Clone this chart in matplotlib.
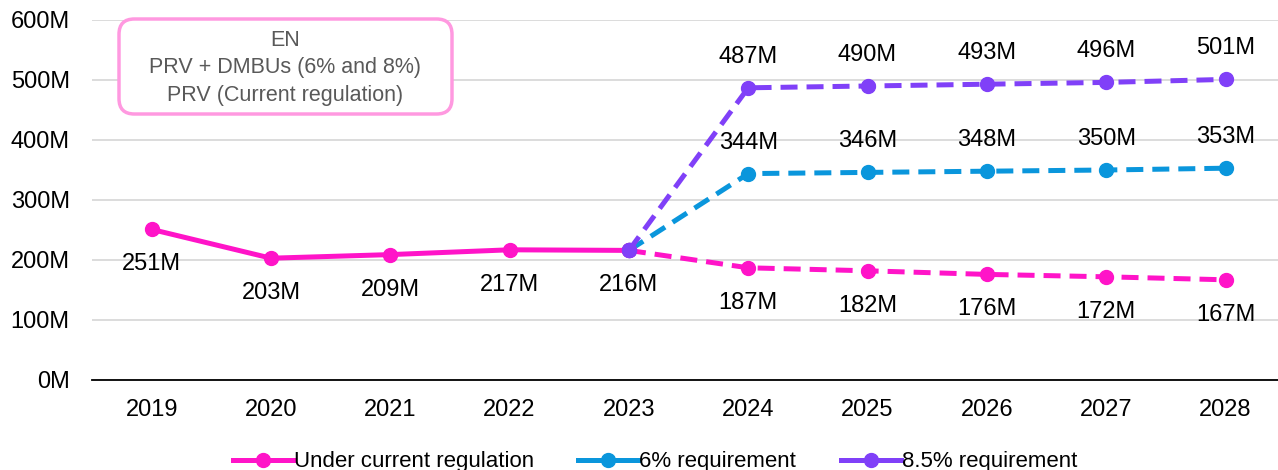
import matplotlib
matplotlib.use("Agg")
import matplotlib.pyplot as plt
from matplotlib.patches import FancyBboxPatch
from matplotlib.lines import Line2D

years = ["2019", "2020", "2021", "2022", "2023", "2024", "2025", "2026", "2027", "2028"]
current_reg = [251, 203, 209, 217, 216, 187, 182, 176, 172, 167]
req_6 = [216, 344, 346, 348, 350, 353]      # from 2023 onward
req_85 = [216, 487, 490, 493, 496, 501]     # from 2023 onward
y_ticks = [0, 100, 200, 300, 400, 500, 600]
box_lines = ["EN", "PRV + DMBUs (6% and 8%)", "PRV (Current regulation)"]

PINK = "#FF14C8"
BLUE = "#0A96DC"
PURPLE = "#8040F8"

plt.rcParams["font.family"] = ["Liberation Sans", "DejaVu Sans"]

fig = plt.figure(figsize=(12.78, 4.70), dpi=100)
ax = fig.add_axes([92 / 1278, 90 / 470, 1186 / 1278, 360 / 470])

x_all = list(range(len(years)))
x_hist = x_all[:5]
x_proj = x_all[4:]

lw = 3.6
ms = 10
dash = (0, (3.4, 1.8))

# future scenarios
ax.plot(x_proj, req_6, color=BLUE, lw=lw, ls=dash, marker="o", ms=ms, zorder=3)
ax.plot(x_proj, req_85, color=PURPLE, lw=lw, ls=dash, marker="o", ms=ms, zorder=4)
# current regulation: solid history, dashed projection
ax.plot(x_proj, current_reg[4:], color=PINK, lw=lw, ls=dash, marker="o", ms=ms, zorder=3)
ax.plot(x_hist, current_reg[:5], color=PINK, lw=lw, marker="o", ms=ms, zorder=3)
# 2023 junction point drawn in purple on top
ax.plot([x_proj[0]], [req_85[0]], color=PURPLE, marker="o", ms=ms, zorder=5, ls="none")

fs = 17
for xi, v in zip(x_all, current_reg):
    ax.annotate(f"{v}M", (xi, v), xytext=(0, -35), textcoords="offset pixels",
                ha="center", va="center", fontsize=fs, color="black")
for xi, v in zip(x_proj[1:], req_6[1:]):
    ax.annotate(f"{v}M", (xi, v), xytext=(0, 31), textcoords="offset pixels",
                ha="center", va="center", fontsize=fs, color="black")
for xi, v in zip(x_proj[1:], req_85[1:]):
    ax.annotate(f"{v}M", (xi, v), xytext=(0, 31), textcoords="offset pixels",
                ha="center", va="center", fontsize=fs, color="black")

ax.set_xlim(-0.5, 9.44)
ax.set_ylim(0, 600)
ax.set_yticks(y_ticks)
ax.set_yticklabels([f"{t}M" for t in y_ticks], fontsize=fs)
ax.set_xticks(x_all)
ax.set_xticklabels(years, fontsize=fs)
ax.tick_params(axis="both", length=0)
ax.tick_params(axis="x", pad=14)
ax.tick_params(axis="y", pad=16)
ax.grid(axis="y", color="#D9D9D9", lw=1.3, zorder=0)
ax.set_axisbelow(True)
for s in ["top", "right", "left"]:
    ax.spines[s].set_visible(False)
ax.spines["bottom"].set_color("black")
ax.spines["bottom"].set_linewidth(1.3)

# annotation box
box = FancyBboxPatch((119 / 1278, (470 - 114) / 470), 333 / 1278, 95 / 470,
                     boxstyle="round,pad=0,rounding_size=0.012",
                     transform=fig.transFigure, facecolor="white",
                     edgecolor="#FF99E0", lw=2.5, zorder=10, mutation_aspect=1278 / 470)
fig.patches.append(box)
for i, line in enumerate(box_lines):
    fig.text(285 / 1278, (470 - 40 - 28 * i) / 470, line, ha="center", va="center",
             fontsize=15.5, color="#595959", zorder=11)

# legend
handles = [Line2D([], [], color=c, lw=lw, marker="o", ms=ms) for c in (PINK, BLUE, PURPLE)]
labels = ["Under current regulation", "6% requirement", "8.5% requirement"]
fig.legend(handles, labels, loc="center", bbox_to_anchor=(655 / 1278, 8 / 470), ncol=3,
           frameon=False, handlelength=2.7, columnspacing=2.0,
           handletextpad=0.05, prop={"family": ["Liberation Sans", "DejaVu Sans"], "size": 16})

fig.savefig("out.png", dpi=100)
